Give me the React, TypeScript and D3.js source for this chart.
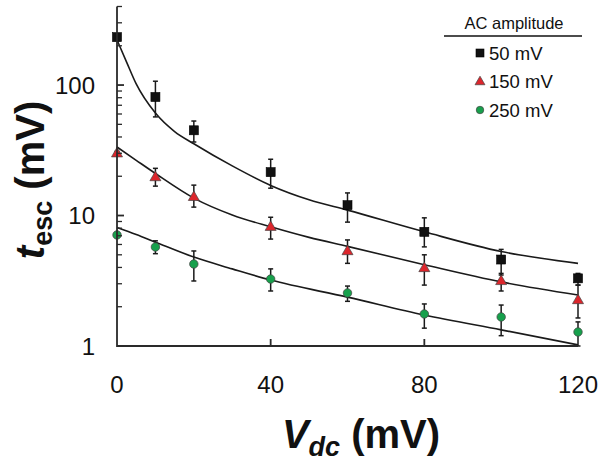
import React from "react";
import * as d3 from "d3";

// ---- data ----
const vdc = [0, 10, 20, 40, 60, 80, 100, 120];

const black50 = [233, 81, 45, 21.5, 12.0, 7.5, 4.6, 3.3];
const black50Hi = [245, 107, 53, 27, 14.9, 9.6, 5.5, 3.6];
const black50Lo = [220, 57, 36.6, 16.2, 8.9, 5.75, 3.5, 2.93];

const red150 = [30, 19.7, 13.9, 8.2, 5.34, 3.96, 3.15, 2.25];
const red150Hi = [31, 23, 17.1, 9.7, 6.5, 5.0, 3.6, 2.93];
const red150Lo = [29, 16.8, 11.6, 6.6, 4.3, 2.93, 2.64, 1.64];

const green250 = [7.1, 5.74, 4.25, 3.26, 2.55, 1.76, 1.67, 1.28];
const green250Hi = [7.3, 6.4, 5.35, 3.9, 2.88, 2.1, 2.06, 1.53];
const green250Lo = [6.9, 5.1, 3.15, 2.64, 2.2, 1.37, 1.2, 1.0];

// fitted curves
const fitX50 = [0, 2.5, 5, 10, 15, 20, 30, 40, 50, 60, 80, 100, 120];
const fit50 = [222, 150, 102, 61, 44, 35.5, 24, 17, 13.2, 11.0, 7.5, 5.3, 4.3];
const fitX150 = [0, 5, 10, 20, 30, 40, 50, 60, 80, 100, 120];
const fit150 = [33.5, 26.5, 21, 13.6, 10.1, 8.2, 6.8, 5.8, 4.2, 3.1, 2.46];
const fitX250 = [0, 5, 10, 20, 30, 40, 60, 80, 100, 120];
const fit250 = [8.1, 7.15, 6.25, 4.8, 3.9, 3.2, 2.37, 1.73, 1.33, 1.02];

const xTicks = [0, 40, 80, 120];
const yTicks = [1, 10, 100];
const legendTitle = "AC amplitude";
const legendLabels = ["50 mV", "150 mV", "250 mV"];

const RED = "#dc262c";
const GREEN = "#17a04c";
const FONT = "'Liberation Sans', Arial, Helvetica, sans-serif";

export default function App() {
  const x = d3.scaleLinear().domain([0, 120]).range([117, 578]);
  const y = d3.scaleLog().domain([1, 400]).range([346, 6.5]);

  const minor: number[] = [];
  [1, 10, 100].forEach((d) => {
    for (let k = 2; k <= 9; k++) {
      const v = d * k;
      if (v <= 400) minor.push(v);
    }
  });

  const line = d3
    .line<[number, number]>()
    .x((d) => x(d[0]))
    .y((d) => y(d[1]))
    .curve(d3.curveMonotoneX);

  const curves = [
    fitX50.map((v, i) => [v, fit50[i]] as [number, number]),
    fitX150.map((v, i) => [v, fit150[i]] as [number, number]),
    fitX250.map((v, i) => [v, fit250[i]] as [number, number]),
  ];

  const series = [
    { vals: black50, hi: black50Hi, lo: black50Lo, kind: "square", color: "#111" },
    { vals: red150, hi: red150Hi, lo: red150Lo, kind: "triangle", color: RED },
    { vals: green250, hi: green250Hi, lo: green250Lo, kind: "circle", color: GREEN },
  ];

  const marker = (kind: string, cx: number, cy: number, color: string, s: number, key?: any) => {
    if (kind === "square")
      return <rect key={key} x={cx - s / 2} y={cy - s / 2} width={s} height={s} fill={color} stroke="#000" strokeWidth={0.6} />;
    if (kind === "triangle") {
      const h = s * 0.95;
      const w = s * 1.1;
      return (
        <path key={key} d={`M${cx},${cy - h * 0.62}L${cx + w / 2},${cy + h * 0.38}L${cx - w / 2},${cy + h * 0.38}Z`} fill={color} stroke="#444" strokeWidth={0.7} />
      );
    }
    return <circle key={key} cx={cx} cy={cy} r={s / 2} fill={color} stroke="#444" strokeWidth={0.7} />;
  };

  return (
    <svg width={602} height={462} style={{ position: "absolute", left: 0, top: 0, background: "#fff" }} fontFamily={FONT}>
      {/* fit curves */}
      {curves.map((c, i) => (
        <path key={"c" + i} d={line(c) || ""} fill="none" stroke="#1a1a1a" strokeWidth={1.6} />
      ))}

      {/* error bars */}
      {series.map((s, si) =>
        vdc.map((v, i) => (
          <g key={`e${si}-${i}`} stroke="#1a1a1a" strokeWidth={1.5}>
            <line x1={x(v)} x2={x(v)} y1={y(s.hi[i])} y2={y(s.lo[i])} />
            <line x1={x(v) - 2.5} x2={x(v) + 2.5} y1={y(s.hi[i])} y2={y(s.hi[i])} />
            <line x1={x(v) - 2.5} x2={x(v) + 2.5} y1={y(s.lo[i])} y2={y(s.lo[i])} />
          </g>
        ))
      )}

      {/* markers */}
      {series.map((s, si) =>
        vdc.map((v, i) => marker(s.kind, x(v), y(s.vals[i]), s.color, s.kind === "square" ? 9 : s.kind === "triangle" ? 10 : 8.5, `m${si}-${i}`))
      )}

      {/* axes */}
      <g stroke="#2a2a2a" strokeWidth={1.8} fill="none">
        <path d={`M${x(0)},${y(400)}V${y(1)}H${x(120)}`} />
        {minor.map((m) => (
          <line key={"mn" + m} x1={x(0)} x2={x(0) + 5} y1={y(m)} y2={y(m)} strokeWidth={1.3} />
        ))}
        {yTicks.map((t) => (
          <line key={"mj" + t} x1={x(0)} x2={x(0) + 7} y1={y(t)} y2={y(t)} />
        ))}
        {xTicks.slice(1, -1).map((t) => (
          <line key={"xt" + t} x1={x(t)} x2={x(t)} y1={y(1)} y2={y(1) - 7} />
        ))}
      </g>

      {/* tick labels */}
      {yTicks.map((t) => (
        <text key={"yl" + t} x={95} y={y(t)} dy="0.36em" textAnchor="end" fontSize={24} fill="#111">
          {t}
        </text>
      ))}
      {xTicks.map((t) => (
        <text key={"xl" + t} x={x(t)} y={393} textAnchor="middle" fontSize={24} fill="#111">
          {t}
        </text>
      ))}

      {/* axis titles */}
      <text x={361} y={448} textAnchor="middle" fontSize={40} fontWeight="bold" fill="#111">
        <tspan fontStyle="italic">V</tspan>
        <tspan fontStyle="italic" fontSize={27} dy={8}>dc</tspan>
        <tspan dy={-8}> (mV)</tspan>
      </text>
      <text transform="translate(44,180) rotate(-90)" textAnchor="middle" fontSize={40} fontWeight="bold" fill="#111">
        <tspan fontStyle="italic">t</tspan>
        <tspan fontSize={27} dy={8}>esc</tspan>
        <tspan dy={-8}> (mV)</tspan>
      </text>

      {/* legend */}
      <text x={514} y={29} textAnchor="middle" fontSize={16.5} fill="#111">{legendTitle}</text>
      <line x1={444} x2={582} y1={36} y2={36} stroke="#111" strokeWidth={1.6} />
      {legendLabels.map((lab, i) => (
        <g key={"lg" + i}>
          {marker(series[i].kind, 480, 53 + i * 28.5, series[i].color, series[i].kind === "square" ? 8 : series[i].kind === "triangle" ? 9 : 7.5)}
          <text x={489} y={59.5 + i * 28.5} fontSize={18.5} fill="#111">{lab}</text>
        </g>
      ))}
    </svg>
  );
}
